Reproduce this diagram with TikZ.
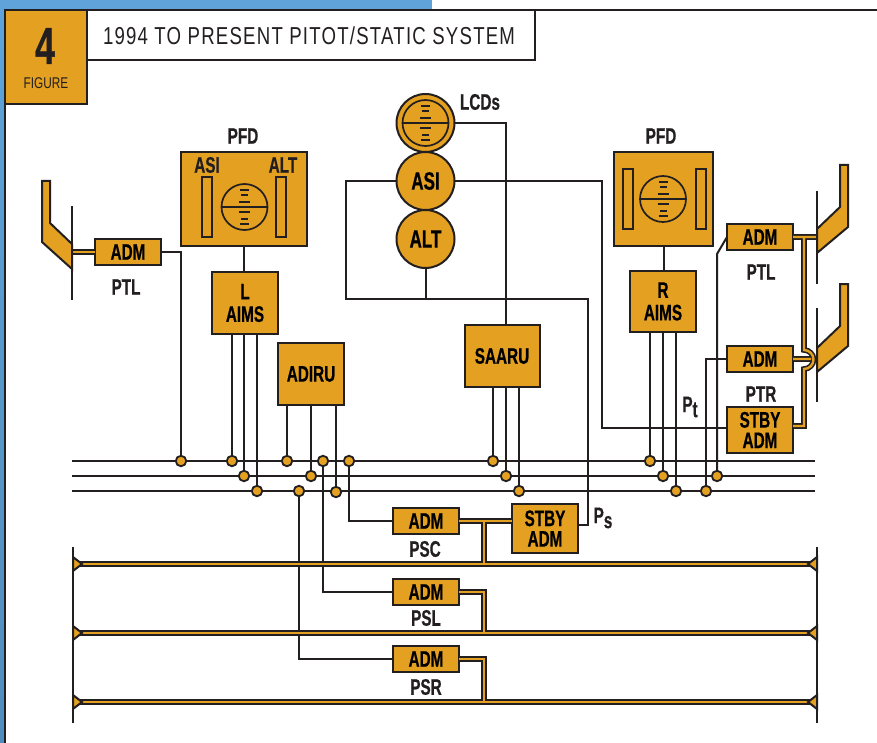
\documentclass[tikz,border=0pt]{standalone}
\usepackage{fontspec}
\newfontfamily\fcb{Liberation Sans}[FakeStretch=0.68,BoldFeatures={FakeStretch=0.68,FakeBold=0.6}]
\newfontfamily\fcr{Liberation Sans}[FakeStretch=0.76]
\newfontfamily\ftt{Liberation Sans}[FakeStretch=0.76,LetterSpace=5]
\definecolor{org}{HTML}{E3A021}
\definecolor{ink}{HTML}{231F20}
\definecolor{sky}{HTML}{5FA3DA}
\definecolor{skyd}{HTML}{4F8DBD}
\newcommand{\pipes}[1]{\draw[pipeout] #1; \draw[pipein] #1;}
\tikzset{
  box/.style={draw=ink,fill=org,line width=2pt,inner sep=0pt,outer sep=0pt,align=center,font=\fcb\bfseries\fontsize{22.5}{20.5}\selectfont},
  lab/.style={inner sep=0pt,outer sep=0pt,text=ink,align=center,font=\fcb\bfseries\fontsize{22.5}{20.5}\selectfont},
  disc/.style={circle,draw=ink,fill=org,line width=2pt,inner sep=0pt,outer sep=0pt,minimum size=58pt,font=\fcb\bfseries\fontsize{25}{25}\selectfont},
  dot/.style={circle,draw=ink,fill=org,line width=1.8pt,inner sep=0pt,outer sep=0pt,minimum size=10.5pt},
  bar/.style={draw=ink,fill=org,line width=2pt,inner sep=0pt,outer sep=0pt},
  wire/.style={draw=ink,line width=2pt},
  probe/.style={draw=ink,fill=org,line width=2pt,line join=miter},
  pipeout/.style={draw=ink,line width=5.6pt,line join=miter},
  pipein/.style={draw=org,line width=2.4pt,line join=miter},
  horizon/.pic={
    \draw[ink,line width=1.7pt] (0,0) circle[radius=23pt];
    \draw[ink,line width=1.7pt] (-23,0) -- (23,0);
    \foreach \yy/\hw in {-17/4.5,-12/3.5,-5/5.5,5/5.5,12/3.5,17/4.5}
      \draw[ink,line width=1.5pt] (-\hw,\yy) -- (\hw,\yy);
  }
}
\begin{document}
\begin{tikzpicture}[x=1pt,y=-1pt]
\useasboundingbox (0,0) rectangle (877,743);
% page background
\fill[white] (0,0) rectangle (877,743);
\shade[top color=sky,bottom color=skyd] (0,0) rectangle (4.5,743);
\fill[sky] (0,0) rectangle (432,10);
\draw[ink,line width=2pt] (877,10) -- (5,10) -- (5,743);

% header
\node[box,minimum width=82pt,minimum height=94pt] (fig) at (46,57) {};
\node[lab,font=\fcb\bfseries\fontsize{52}{52}\selectfont] (four) at (45,46) {4};
\node[lab,font=\fcr\fontsize{15.5}{16}\selectfont] (figlab) at (46,83) {FIGURE};
\node[box,fill=white,minimum width=448pt,minimum height=50pt] (title) at (311,35) {};
\node[lab,font=\ftt\fontsize{24.5}{24.5}\selectfont] (titletxt) at (309,36) {1994 TO PRESENT PITOT/STATIC SYSTEM};

% buses
\coordinate (b1l) at (72,461); \coordinate (b1r) at (815,461);
\coordinate (b2l) at (72,476); \coordinate (b2r) at (815,476);
\coordinate (b3l) at (72,491); \coordinate (b3r) at (815,491);
\draw[wire] (b1l) -- (b1r);
\draw[wire] (b2l) -- (b2r);
\draw[wire] (b3l) -- (b3r);

% bus dots
\node[dot] (d1) at (181,461) {};
\node[dot] (d2) at (232,461) {};
\node[dot] (d3) at (244,476) {};
\node[dot] (d4) at (257,491) {};
\node[dot] (d5) at (287,461) {};
\node[dot] (d6) at (311,476) {};
\node[dot] (d7) at (299,491) {};
\node[dot] (d8) at (323,461) {};
\node[dot] (d9) at (336,492) {};
\node[dot] (d10) at (349,461) {};
\node[dot] (d11) at (493,461) {};
\node[dot] (d12) at (506,476) {};
\node[dot] (d13) at (519,491) {};
\node[dot] (d14) at (650,461) {};
\node[dot] (d15) at (663,476) {};
\node[dot] (d16) at (676,491) {};
\node[dot] (d17) at (706,491) {};
\node[dot] (d18) at (717,476) {};

% static bars
\coordinate (s1l) at (75,564); \coordinate (s1r) at (815,564);
\coordinate (s2l) at (75,633); \coordinate (s2r) at (815,633);
\coordinate (s3l) at (75,702); \coordinate (s3r) at (815,702);
\coordinate (j1) at (484,564); \coordinate (j2) at (484,633); \coordinate (j3) at (484,702);

% boxes
\node[box,minimum width=66pt,minimum height=26pt] (admL) at (128,252) {ADM};
\node[lab] (ptlL) at (126,287) {PTL};
\node[box,minimum width=126pt,minimum height=94pt] (pfdL) at (244,199) {};
\node[lab] at (243,136) (pfdLt) {PFD};
\node[lab] (asiL) at (207,165) {ASI};
\node[lab] (altL) at (283,165) {ALT};
\node[bar,minimum width=10pt,minimum height=60pt] (barL1) at (207,207) {};
\node[bar,minimum width=10pt,minimum height=60pt] (barL2) at (281,207) {};
\pic at (244.5,207) {horizon};
\node[box,minimum width=66pt,minimum height=62pt] (aimsL) at (245,303) {L\\[2pt]AIMS};
\node[box,minimum width=66pt,minimum height=62pt] (adiru) at (311,374) {ADIRU};

\node[disc] (lcd) at (425.5,123) {};
\pic at (425.5,123) {horizon};
\node[lab,anchor=west] (lcdt) at (460,102) {LCDs};
\node[disc] (asi) at (425.5,181) {ASI};
\node[disc] (alt) at (425.5,239) {ALT};
\node[box,minimum width=75pt,minimum height=62pt] (saaru) at (502,356) {SAARU};

\node[box,minimum width=99pt,minimum height=94pt] (pfdR) at (663.5,199) {};
\node[lab] (pfdRt) at (661,136) {PFD};
\node[bar,minimum width=10pt,minimum height=60pt] (barR1) at (627.5,199) {};
\node[bar,minimum width=10pt,minimum height=60pt] (barR2) at (701,199) {};
\pic at (663,199) {horizon};
\node[box,minimum width=66pt,minimum height=61pt] (aimsR) at (663,301.5) {R\\[2pt]AIMS};

\node[box,minimum width=66pt,minimum height=26pt] (admPTL) at (760,237) {ADM};
\node[lab] (ptlR) at (761,272) {PTL};
\node[box,minimum width=66pt,minimum height=26pt] (admPTR) at (760,359) {ADM};
\node[lab] (ptrR) at (761,394) {PTR};
\node[box,minimum width=66pt,minimum height=46pt] (stbyT) at (760,430) {STBY\\ADM};
\node[lab] (pt) at (690,407) {P\raisebox{-5pt}{t}};

\node[box,minimum width=66pt,minimum height=26pt] (admC) at (426,521) {ADM};
\node[lab] (psc) at (425,549) {PSC};
\node[box,minimum width=66pt,minimum height=49pt] (stbyS) at (545,528.5) {STBY\\ADM};
\node[lab] (ps) at (603,518) {P\raisebox{-5pt}{s}};
\node[box,minimum width=66pt,minimum height=26pt] (admSL) at (426,592) {ADM};
\node[lab] (psl) at (426,618) {PSL};
\node[box,minimum width=66pt,minimum height=26pt] (admSR) at (426,659) {ADM};
\node[lab] (psr) at (426,687) {PSR};

% signal wires
\draw[wire] (admL.east) -| (d1);
\draw[wire] (pfdL.south) -- (aimsL.north -| pfdL.south);
\draw[wire] (d2 |- aimsL.south) -- (d2);
\draw[wire] (d3 |- aimsL.south) -- (d3);
\draw[wire] (d4 |- aimsL.south) -- (d4);
\draw[wire] (d5 |- adiru.south) -- (d5);
\draw[wire] (d6 |- adiru.south) -- (d6);
\draw[wire] (d9 |- adiru.south) -- (d9);
\draw[wire] (d11 |- saaru.south) -- (d11);
\draw[wire] (d12 |- saaru.south) -- (d12);
\draw[wire] (d13 |- saaru.south) -- (d13);
\draw[wire] (d14 |- aimsR.south) -- (d14);
\draw[wire] (d15 |- aimsR.south) -- (d15);
\draw[wire] (d16 |- aimsR.south) -- (d16);
\draw[wire] (pfdR.south) -- (aimsR.north -| pfdR.south);
\draw[wire] (lcd.east) -- (506,123) -- (506,325);
\draw[wire] (asi.west) -- (346,181) -- (346,299) -- (588,299) -- (588,525) -- (stbyS.east |- 0,525);
\draw[wire] (alt.south) -- (425.5,299);
\draw[wire] (asi.east) -- (602,181) -- (602,428) -- (stbyT.west |- 0,428);
\draw[wire] (admPTR.west) -- (706,359) -- (d17);
\draw[wire] (admPTL.west) -- (717,254) -- (d18);
\draw[wire] (d10) |- (admC.west);
\draw[wire] (d8) |- (admSL.west);
\draw[wire] (d7) |- (admSR.west);

% end lines and probes
\coordinate (rt) at (817,191); \coordinate (rb) at (817,284);
\coordinate (qt) at (817,308); \coordinate (qb) at (817,402);
\coordinate (lt) at (72,206); \coordinate (lb) at (72,300);
\coordinate (vlt) at (73,547); \coordinate (vlb) at (73,723);
\coordinate (vrt) at (817,547); \coordinate (vrb) at (817,723);

% pneumatic pipes
\pipes{(admL.west -| lt) -- (admL.west)}
\pipes{(admPTL.east) -- (817,237) (804,237) -- (804,350) arc[start angle=90,end angle=-90,radius=9.5pt] -- (804,426) -- (stbyT.east |- 0,426) (admPTR.east) -- (811,359)}
\pipes{(s1l) -- (s1r) (s2l) -- (s2r) (s3l) -- (s3r) (admC.east) -- (stbyS.west |- admC.east) (484,521) -- (j1) (admSL.east) -- (484,592) -- (j2) (admSR.east) -- (484,659) -- (j3)}

\draw[ink,line width=2pt] (lt) -- (lb);
\draw[ink,line width=2pt] (rt) -- (rb);
\draw[ink,line width=2pt] (qt) -- (qb);
\draw[ink,line width=2pt] (vlt) -- (vlb);
\draw[ink,line width=2pt] (vrt) -- (vrb);
\filldraw[probe] (42,181) -- (50,181) -- (50,223) -- (72,244) -- (72,269) -- (42,242) -- cycle;
\filldraw[probe] (840,165) -- (848,165) -- (848,227) -- (817,253) -- (817,229) -- (840,207) -- cycle;
\filldraw[probe] (840,284) -- (848,284) -- (848,346) -- (817,372) -- (817,348) -- (840,326) -- cycle;
\foreach \yy in {564,633,702}{
  \filldraw[probe] (73,\yy-7) -- (82,\yy) -- (73,\yy+7) -- cycle;
  \filldraw[probe] (817,\yy-7) -- (808,\yy) -- (817,\yy+7) -- cycle;
}
\end{tikzpicture}
\end{document}
